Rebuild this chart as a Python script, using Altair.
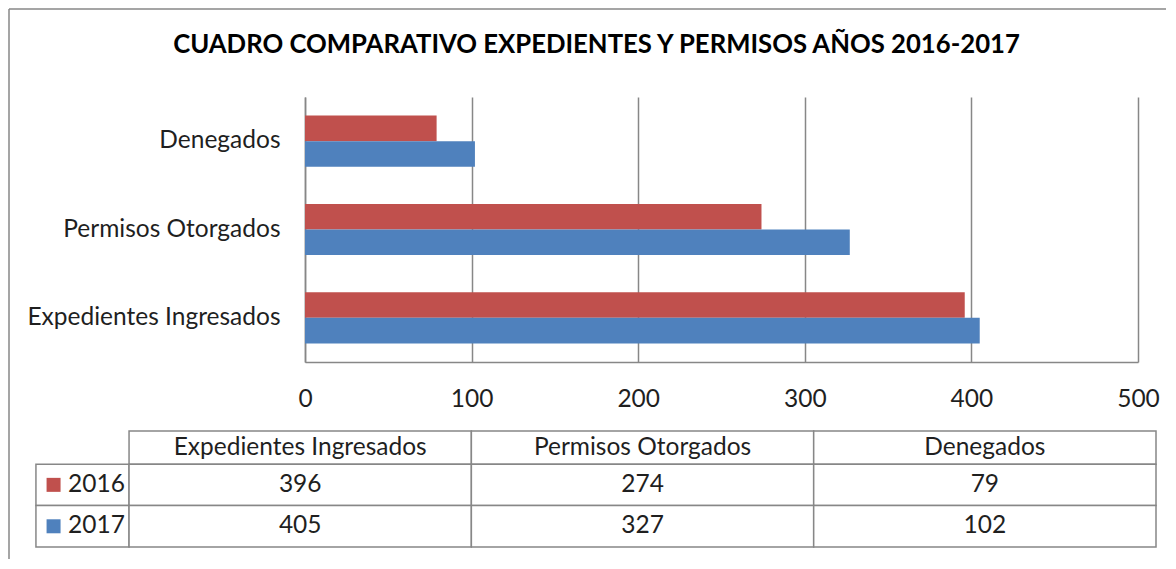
import altair as alt
import pandas as pd

# ---------------- data ----------------
categories = ["Expedientes Ingresados", "Permisos Otorgados", "Denegados"]
years = ["2016", "2017"]
values_2016 = [396, 274, 79]
values_2017 = [405, 327, 102]
year_colors = ["#C0504D", "#4F81BD"]
x_ticks = [0, 100, 200, 300, 400, 500]
title_text = "CUADRO COMPARATIVO EXPEDIENTES Y PERMISOS AÑOS 2016-2017"

# ---------------- style ----------------
FONT = "Lato"
FS = 24.5
TXT = "#1f1f1f"
LINE = "#878787"
LW = 1.5

series = {"2016": values_2016, "2017": values_2017}
bar_df = pd.DataFrame(
    [{"cat": c, "year": y, "value": v} for y in years for c, v in zip(categories, series[y])]
)
color_scale = alt.Scale(domain=years, range=year_colors)

bars = alt.Chart(bar_df).mark_bar().encode(
    x=alt.X(
        "value:Q",
        scale=alt.Scale(domain=[0, 500], nice=False),
        axis=alt.Axis(
            values=x_ticks, title=None, grid=True, ticks=False, tickSize=0,
            gridColor=LINE, gridWidth=LW, domainColor=LINE, domainWidth=LW,
            labelFont=FONT, labelFontSize=FS, labelColor=TXT, labelPadding=25,
            labelFlush=False,
        ),
    ),
    y=alt.Y(
        "cat:N",
        sort=categories[::-1],
        scale=alt.Scale(paddingInner=0.42, paddingOuter=0.21),
        axis=alt.Axis(
            title=None, ticks=False, tickSize=0, domainColor=LINE, domainWidth=LW,
            labelFont=FONT, labelFontSize=FS, labelColor=TXT, labelPadding=25,
            labelLimit=400,
        ),
    ),
    yOffset=alt.YOffset("year:N", sort=years),
    color=alt.Color("year:N", scale=color_scale, legend=None),
)

# outer frame of the chart object (left and top edges)
frame_df = pd.DataFrame({"k": [0]})
frame_top = alt.Chart(frame_df).mark_rule(color=LINE, strokeWidth=LW).encode(
    x=alt.value(-296), x2=alt.value(861), y=alt.value(-88)
)
frame_left = alt.Chart(frame_df).mark_rule(color=LINE, strokeWidth=LW).encode(
    x=alt.value(-296), y=alt.value(-88), y2=alt.value(462)
)

top = alt.layer(bars, frame_top, frame_left).properties(width=833, height=265)

# ---------------- data table ----------------
HEADER_H = 0.8      # header row height in row units
LEG_LEFT = -0.272   # legend column left edge, in column units
SQ_X = -0.2205      # legend swatch centre
LT_X = -0.178       # legend text start

cells, texts, swatches, legtxt = [], [], [], []
for c, cat in enumerate(categories):
    cells.append({"x0": c, "x1": c + 1, "y0": 0, "y1": HEADER_H})
    texts.append({"x": c + 0.5, "y": HEADER_H / 2, "t": cat})
for r, yr in enumerate(years):
    y0 = HEADER_H + r
    cells.append({"x0": LEG_LEFT, "x1": 0, "y0": y0, "y1": y0 + 1})
    swatches.append({"x": SQ_X, "y": y0 + 0.5, "year": yr})
    legtxt.append({"x": LT_X, "y": y0 + 0.5, "t": yr})
    for c, v in enumerate(series[yr]):
        cells.append({"x0": c, "x1": c + 1, "y0": y0, "y1": y0 + 1})
        texts.append({"x": c + 0.5, "y": y0 + 0.5, "t": str(v)})

xs = alt.Scale(domain=[0.514, 3.0], nice=False, zero=False)
ys = alt.Scale(domain=[0, HEADER_H + len(years)], nice=False, zero=False, reverse=True)

cell_layer = alt.Chart(pd.DataFrame(cells)).mark_rect(
    fill="white", stroke=LINE, strokeWidth=LW
).encode(
    x=alt.X("x0:Q", scale=xs, axis=None), x2="x1:Q",
    y=alt.Y("y0:Q", scale=ys, axis=None), y2="y1:Q",
)
text_layer = alt.Chart(pd.DataFrame(texts)).mark_text(
    font=FONT, fontSize=FS, color=TXT, align="center", baseline="middle"
).encode(x=alt.X("x:Q", scale=xs, axis=None), y=alt.Y("y:Q", scale=ys, axis=None), text="t:N")
sw_layer = alt.Chart(pd.DataFrame(swatches)).mark_square(size=196, opacity=1).encode(
    x=alt.X("x:Q", scale=xs, axis=None), y=alt.Y("y:Q", scale=ys, axis=None),
    color=alt.Color("year:N", scale=color_scale, legend=None),
)
lt_layer = alt.Chart(pd.DataFrame(legtxt)).mark_text(
    font=FONT, fontSize=FS, color=TXT, align="left", baseline="middle"
).encode(x=alt.X("x:Q", scale=xs, axis=None), y=alt.Y("y:Q", scale=ys, axis=None), text="t:N")

table = alt.layer(cell_layer, text_layer, sw_layer, lt_layer).properties(width=851, height=116)

chart = alt.vconcat(top, table, spacing=69, bounds="flush").properties(
    title=alt.Title(
        title_text, font=FONT, fontSize=25.7, fontWeight="bold", color="#000000",
        anchor="middle", offset=-50, dx=9,
    ),
    padding={"left": 0, "top": 0, "right": 0, "bottom": 0},
    background="white",
).configure_view(stroke=None)

chart.save("out.html", embed_options={"renderer": "svg", "actions": False})
